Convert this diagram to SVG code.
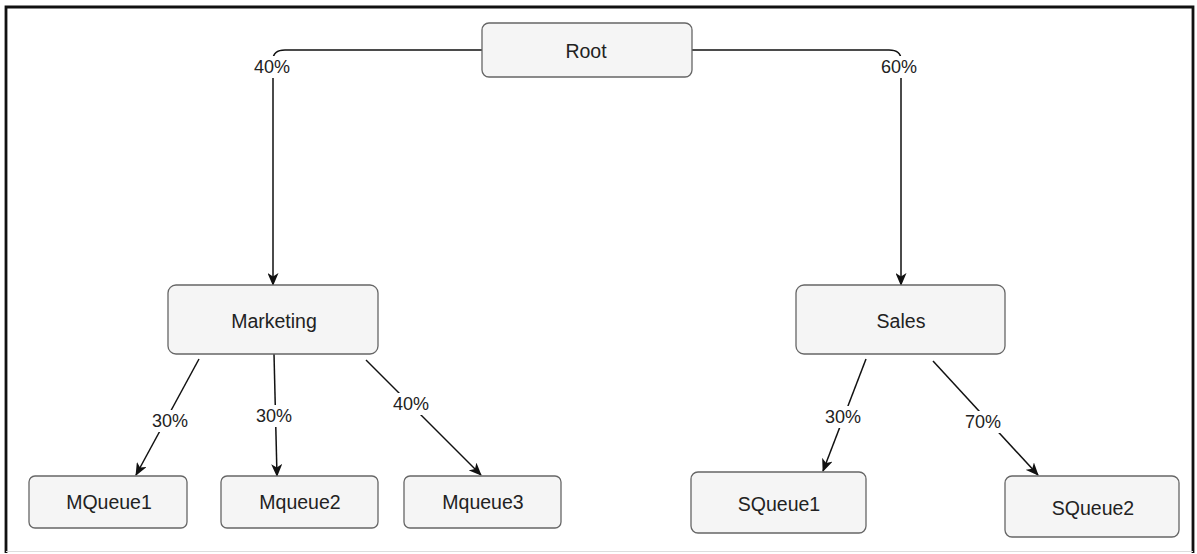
<svg xmlns="http://www.w3.org/2000/svg" width="1197" height="554" viewBox="0 0 1197 554">
  <style>
    .node rect { fill: #f5f5f5; stroke: #666666; stroke-width: 1.3; }
    .node text { font-family: "Liberation Sans", Arial, sans-serif; font-size: 19.5px; fill: #222222; text-anchor: middle; }
    .edge { fill: none; stroke: #111111; stroke-width: 1.5; }
    .lbl-bg { fill: #ffffff; }
    .lbl { font-family: "Liberation Sans", Arial, sans-serif; font-size: 18px; fill: #222222; text-anchor: middle; }
  </style>
  <defs>
    <marker id="arrow" viewBox="0 0 13 11" refX="12" refY="5.5" markerWidth="13" markerHeight="11" markerUnits="userSpaceOnUse" orient="auto">
      <path d="M0,0 L13,5.5 L0,11 L3.5,5.5 z" fill="#111111"/>
    </marker>
  </defs>

  <!-- outer frame -->
  <rect x="0" y="0" width="1197" height="554" fill="#ffffff"/>
  <path d="M6,553 L6,7 L1193,7 L1193,553" fill="none" stroke="#111111" stroke-width="2.8"/>
  <line x1="6" y1="551.5" x2="1193" y2="551.5" stroke="#dddddd" stroke-width="1"/>

  <!-- connectors -->
  <g id="connectors">
    <path class="edge" d="M482,50 L285,50 Q273,50 273,60 L273,285" marker-end="url(#arrow)"/>
    <path class="edge" d="M692,50 L889,50 Q901,50 901,60 L901,285" marker-end="url(#arrow)"/>
    <path class="edge" d="M199,359 L136,475" marker-end="url(#arrow)"/>
    <path class="edge" d="M274,354 L277,476" marker-end="url(#arrow)"/>
    <path class="edge" d="M366,360 L481,475" marker-end="url(#arrow)"/>
    <path class="edge" d="M866,359 L823,471" marker-end="url(#arrow)"/>
    <path class="edge" d="M933,361 L1038,475" marker-end="url(#arrow)"/>

    <rect class="lbl-bg" x="252" y="56" width="40" height="22"/>
    <text class="lbl" x="272" y="73">40%</text>
    <rect class="lbl-bg" x="879" y="56" width="40" height="22"/>
    <text class="lbl" x="899" y="73">60%</text>
    <rect class="lbl-bg" x="150" y="410" width="40" height="22"/>
    <text class="lbl" x="170" y="427">30%</text>
    <rect class="lbl-bg" x="254" y="405" width="40" height="22"/>
    <text class="lbl" x="274" y="422">30%</text>
    <rect class="lbl-bg" x="391" y="393" width="40" height="22"/>
    <text class="lbl" x="411" y="410">40%</text>
    <rect class="lbl-bg" x="823" y="406" width="40" height="22"/>
    <text class="lbl" x="843" y="423">30%</text>
    <rect class="lbl-bg" x="963" y="411" width="40" height="22"/>
    <text class="lbl" x="983" y="428">70%</text>
  </g>

  <!-- nodes -->
  <g id="root" class="node">
    <rect x="482" y="23" width="210" height="54" rx="7"/>
    <text x="586" y="58">Root</text>
  </g>
  <g id="marketing" class="node">
    <rect x="168" y="285" width="210" height="69" rx="8"/>
    <text x="274" y="328">Marketing</text>
  </g>
  <g id="sales" class="node">
    <rect x="796" y="285" width="209" height="69" rx="8"/>
    <text x="901" y="328">Sales</text>
  </g>
  <g id="mqueue1" class="node">
    <rect x="29" y="476" width="158" height="52" rx="6"/>
    <text x="109" y="509">MQueue1</text>
  </g>
  <g id="mqueue2" class="node">
    <rect x="221" y="476" width="157" height="52" rx="6"/>
    <text x="300" y="509">Mqueue2</text>
  </g>
  <g id="mqueue3" class="node">
    <rect x="404" y="476" width="157" height="52" rx="6"/>
    <text x="483" y="509">Mqueue3</text>
  </g>
  <g id="squeue1" class="node">
    <rect x="691" y="472" width="175" height="61" rx="7"/>
    <text x="779" y="511">SQueue1</text>
  </g>
  <g id="squeue2" class="node">
    <rect x="1005" y="476" width="174" height="61" rx="7"/>
    <text x="1093" y="515">SQueue2</text>
  </g>
</svg>
